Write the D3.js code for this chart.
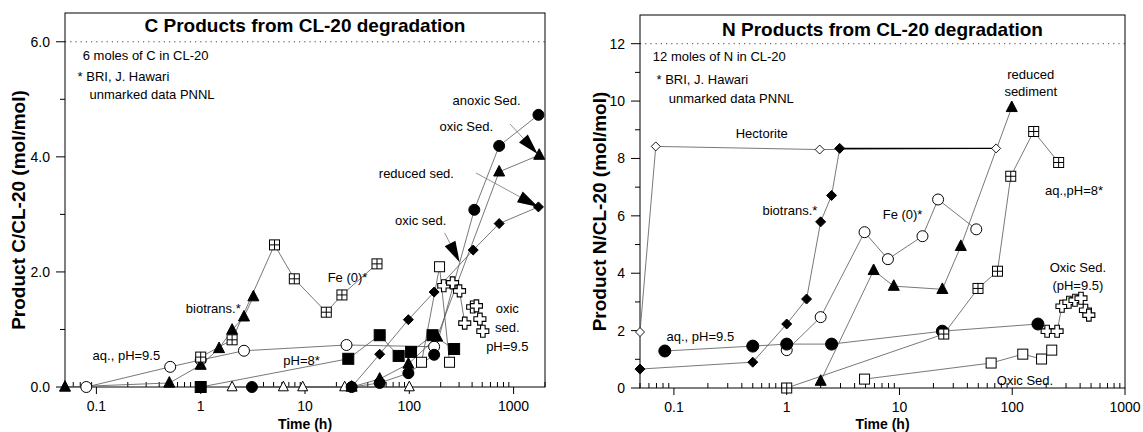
<!DOCTYPE html>
<html><head><meta charset="utf-8">
<script src="https://cdn.jsdelivr.net/npm/d3@7"></script>
<style>body{margin:0;background:#fff} svg{display:block} text{font-family:"Liberation Sans",Arial,sans-serif;fill:#000}</style>
</head><body><svg id="c" width="1143" height="432"></svg>
<script>
// ---------- C products (left panel) ----------
const cTimeBiotrans = [0.05, 0.5, 1, 1.5, 2, 2.6, 3.2];
const cBiotrans     = [0, 0.07, 0.38, 0.67, 0.99, 1.22, 1.57];
const cTimeFe = [1, 2, 5.1, 7.9, 16, 22.6, 49];
const cFe     = [0.52, 0.82, 2.47, 1.88, 1.30, 1.60, 2.14];
const cTimeAq95 = [0.08, 0.51, 1, 2.6, 25, 173];
const cAq95     = [0, 0.35, 0.47, 0.63, 0.73, 0.70];
const cTimePh8 = [1, 26, 52, 79, 104, 167, 269];
const cPh8     = [0, 0.49, 0.90, 0.54, 0.61, 0.90, 0.66];
const cTimeOpenTri = [2, 6.2, 9.5, 24, 100];
const cOpenTri     = [0, 0, 0, 0, 0];
const cTimeAnoxic = [3.1, 28, 52, 98, 173, 420, 727, 1730];
const cAnoxic     = [0, 0, 0.07, 0.24, 0.56, 3.08, 4.19, 4.73];
const cTimeOxicTri = [28, 52, 98, 185, 727, 1760];
const cOxicTri     = [0, 0.14, 0.40, 0.87, 3.74, 4.03];
const cTimeDiamond = [28, 52, 98, 173, 410, 727, 1730];
const cDiamond     = [0, 0.57, 1.17, 1.65, 2.38, 2.84, 3.13];
const cTimeOpenSq = [131, 195, 243];
const cOpenSq     = [0.43, 2.09, 0.43];
const cTimeCrossA = [214, 260, 303, 340];
const cCrossA     = [1.76, 1.81, 1.67, 1.11];
const cTimeCrossB = [405, 440, 475, 507];
const cCrossB     = [1.39, 1.41, 1.18, 0.97];

// ---------- N products (right panel) ----------
const nTimeHect = [0.05, 0.069, 1.96, 72];
const nHect     = [1.95, 8.42, 8.31, 8.35];
const nTimeBio = [0.05, 0.5, 1, 1.5, 2, 2.5, 2.95];
const nBio     = [0.66, 0.90, 2.23, 3.10, 5.79, 6.71, 8.35];
const nTimeBioPlateau = [2.95, 72];
const nBioPlateau     = [8.35, 8.35];
const nTimeFe = [1, 2, 4.9, 7.9, 16, 22, 48];
const nFe     = [1.32, 2.47, 5.43, 4.49, 5.29, 6.57, 5.53];
const nTimeAq95 = [0.083, 0.5, 1, 2.5, 24, 169];
const nAq95     = [1.29, 1.46, 1.53, 1.53, 1.98, 2.23];
const nTimeRed = [2, 5.9, 8.9, 24, 35, 99];
const nRed     = [0.24, 4.10, 3.55, 3.44, 4.94, 9.78];
const nTimeAq8 = [1, 24.7, 49.7, 74, 97, 155, 258];
const nAq8     = [0, 1.88, 3.47, 4.07, 7.38, 8.94, 7.86];
const nTimeOxic = [4.9, 65, 124, 182, 224];
const nOxic     = [0.31, 0.87, 1.18, 1.01, 1.32];
const nTimeCross = [204, 250, 276, 318, 360, 407, 446, 478];
const nCross     = [1.98, 1.98, 2.85, 2.99, 3.06, 3.13, 2.71, 2.54];

// ---------- axes ----------
const cYTicks = [0, 2, 4, 6];
const cYMinor = [1, 3, 5];
const nYTicks = [0, 2, 4, 6, 8, 10, 12];
const nYMinor = [1, 3, 5, 7, 9, 11];
const xTickLabels = [0.1, 1, 10, 100, 1000];

// ---------- text annotations [text, time, value, anchor] ----------
const cNotes = [
  ["6 moles of C in CL-20", 0.074, 5.69, "start"],
  ["* BRI, J. Hawari", 0.066, 5.32, "start"],
  ["unmarked data PNNL", 0.086, 5.01, "start"],
  ["anoxic Sed.", 260, 4.90, "start"],
  ["oxic Sed.", 195, 4.45, "start"],
  ["reduced sed.", 51, 3.63, "start"],
  ["oxic sed.", 73, 2.82, "start"],
  ["Fe (0)*", 16.5, 1.83, "start"],
  ["biotrans.*", 0.72, 1.29, "start"],
  ["aq., pH=9.5", 0.092, 0.47, "start"],
  ["pH=8*", 6.2, 0.38, "start"],
  ["oxic", 870, 1.29, "middle"],
  ["sed.", 870, 0.96, "middle"],
  ["pH=9.5", 870, 0.63, "middle"]
];
const nNotes = [
  ["12 moles of N in CL-20", 0.065, 11.41, "start"],
  ["* BRI, J. Hawari", 0.070, 10.61, "start"],
  ["unmarked data PNNL", 0.090, 9.95, "start"],
  ["Hectorite", 0.353, 8.70, "start"],
  ["biotrans.*", 0.61, 6.02, "start"],
  ["Fe (0)*", 7.1, 5.88, "start"],
  ["reduced", 146, 10.78, "middle"],
  ["sediment", 146, 10.19, "middle"],
  ["aq.,pH=8*", 195, 6.71, "start"],
  ["Oxic Sed.", 382, 4.03, "middle"],
  ["(pH=9.5)", 382, 3.41, "middle"],
  ["aq., pH=9.5", 0.086, 1.63, "start"],
  ["Oxic Sed.", 73, 0.12, "start"]
];
// arrows: [fromTime, fromValue, toTime, toValue]
const cArrows = [
  [925, 4.57, 1700, 4.05],
  [436, 3.72, 1725, 3.13],
  [218, 2.68, 304, 2.17]
];

const panels = [
  {x0:65, x1:545, y0:13, y1:387, xDom:[0.05,2000], yDom:[0,6.5], yTicks:cYTicks, yMinor:cYMinor,
   fmt:d3.format(".1f"), refLine:6, title:"C Products from CL-20 degradation", titleY:32,
   ylabel:"Product C/CL-20 (mol/mol)", ylabX:25, notes:cNotes, arrows:cArrows,
   series:[
     {t:cTimeOpenTri, v:cOpenTri, m:"otri", s:10},
     {t:cTimeAq95, v:cAq95, m:"ocirc", s:11},
     {t:cTimePh8, v:cPh8, m:"sq", s:11},
     {t:cTimeBiotrans, v:cBiotrans, m:"tri", s:11},
     {t:cTimeFe, v:cFe, m:"xsq", s:10},
     {t:cTimeOpenSq, v:cOpenSq, m:"osq", s:10},
     {t:cTimeDiamond, v:cDiamond, m:"dia", s:10},
     {t:cTimeOxicTri, v:cOxicTri, m:"tri", s:11},
     {t:cTimeAnoxic, v:cAnoxic, m:"circ", s:11},
     {t:cTimeCrossA, v:cCrossA, m:"cross", s:12},
     {t:cTimeCrossB, v:cCrossB, m:"cross", s:12, noLine:true}
   ]},
  {x0:640, x1:1125, y0:15, y1:388, xDom:[0.05,1000], yDom:[0,13], yTicks:nYTicks, yMinor:nYMinor,
   fmt:d3.format("d"), refLine:12, title:"N Products from CL-20 degradation", titleY:36,
   ylabel:"Product N/CL-20 (mol/mol)", ylabX:606, notes:nNotes, arrows:[],
   series:[
     {t:nTimeHect, v:nHect, m:"odia", s:9},
     {t:nTimeBioPlateau, v:nBioPlateau, m:null, dark:true},
     {t:nTimeBio, v:nBio, m:"dia", s:10},
     {t:nTimeFe, v:nFe, m:"ocirc", s:11},
     {t:nTimeAq95, v:nAq95, m:"circ", s:12},
     {t:nTimeRed, v:nRed, m:"tri", s:11},
     {t:nTimeAq8, v:nAq8, m:"xsq", s:10},
     {t:nTimeOxic, v:nOxic, m:"osq", s:10},
     {t:nTimeCross, v:nCross, m:"cross", s:12}
   ]}
];

const svg = d3.select("#c");

function marker(g, type, x, y, s) {
  const h = s/2;
  if (type === "circ" || type === "ocirc") {
    g.append("circle").attr("cx",x).attr("cy",y).attr("r",h)
      .attr("fill", type==="circ" ? "#000" : "#fff").attr("stroke","#000").attr("stroke-width",1);
  } else if (type === "sq" || type === "osq" || type === "xsq") {
    g.append("rect").attr("x",x-h).attr("y",y-h).attr("width",s).attr("height",s)
      .attr("fill", type==="sq" ? "#000" : "#fff").attr("stroke","#000").attr("stroke-width",1);
    if (type === "xsq") g.append("path").attr("d",`M${x-h},${y}H${x+h}M${x},${y-h}V${y+h}`)
      .attr("stroke","#000").attr("stroke-width",1);
  } else if (type === "tri" || type === "otri") {
    g.append("path").attr("d",`M${x},${y-s*0.58}L${x+h},${y+s*0.38}L${x-h},${y+s*0.38}Z`)
      .attr("fill", type==="tri" ? "#000" : "#fff").attr("stroke","#000").attr("stroke-width",1);
  } else if (type === "dia" || type === "odia") {
    g.append("path").attr("d",`M${x},${y-h}L${x+h},${y}L${x},${y+h}L${x-h},${y}Z`)
      .attr("fill", type==="dia" ? "#000" : "#fff").attr("stroke","#000").attr("stroke-width",type==="dia"?1:0.9);
  } else if (type === "cross") {
    const w = s*0.19;
    g.append("path").attr("d",
      `M${x-w},${y-h}H${x+w}V${y-w}H${x+h}V${y+w}H${x+w}V${y+h}H${x-w}V${y+w}H${x-h}V${y-w}H${x-w}Z`)
      .attr("fill","#fff").attr("stroke","#000").attr("stroke-width",1.1);
  }
}

panels.forEach(p => {
  const x = d3.scaleLog().domain(p.xDom).range([p.x0, p.x1]);
  const y = d3.scaleLinear().domain(p.yDom).range([p.y1, p.y0]);
  const g = svg.append("g");

  // reference dotted line
  g.append("line").attr("x1",p.x0).attr("x2",p.x1).attr("y1",y(p.refLine)).attr("y2",y(p.refLine))
    .attr("stroke","#444").attr("stroke-width",1).attr("stroke-dasharray","1.2,4");

  // frame
  g.append("rect").attr("x",p.x0).attr("y",p.y0).attr("width",p.x1-p.x0).attr("height",p.y1-p.y0)
    .attr("fill","none").attr("stroke","#000").attr("stroke-width",1);

  // x ticks (1..9 x 10^k within domain)
  const kMin = Math.floor(Math.log10(p.xDom[0])), kMax = Math.ceil(Math.log10(p.xDom[1]));
  for (let k = kMin; k <= kMax; k++) {
    for (let m = 1; m <= 9; m++) {
      const t = m * Math.pow(10, k);
      if (t < p.xDom[0]*0.999 || t > p.xDom[1]*1.001) continue;
      const major = m === 1;
      g.append("line").attr("x1",x(t)).attr("x2",x(t))
        .attr("y1", major ? p.y1 : p.y1 - 5).attr("y2", major ? p.y1 + 7 : p.y1)
        .attr("stroke","#000").attr("stroke-width",1);
    }
  }
  xTickLabels.filter(t => t <= p.xDom[1]).forEach(t => {
    g.append("text").attr("x",x(t)).attr("y",p.y1+24).attr("text-anchor","middle")
      .attr("font-size",14).text(String(t));
  });
  g.append("text").attr("x",(p.x0+p.x1)/2).attr("y",429).attr("text-anchor","middle")
    .attr("font-size",14).attr("font-weight","bold").text("Time (h)");

  // y ticks
  p.yTicks.forEach(v => {
    g.append("line").attr("x1",p.x0-9).attr("x2",p.x0).attr("y1",y(v)).attr("y2",y(v)).attr("stroke","#000");
    g.append("text").attr("x",p.x0-15).attr("y",y(v)).attr("dy","0.35em").attr("text-anchor","end")
      .attr("font-size",14).text(p.fmt(v));
  });
  p.yMinor.forEach(v => {
    g.append("line").attr("x1",p.x0-5).attr("x2",p.x0).attr("y1",y(v)).attr("y2",y(v)).attr("stroke","#000");
  });
  g.append("text").attr("transform",`translate(${p.ylabX},${(p.y0+p.y1)/2+10}) rotate(-90)`)
    .attr("text-anchor","middle").attr("font-size",19).attr("font-weight","bold").text(p.ylabel);

  // title
  g.append("text").attr("x",(p.x0+p.x1)/2).attr("y",p.titleY).attr("text-anchor","middle")
    .attr("font-size",19).attr("font-weight","bold").text(p.title);

  // lines
  const line = d3.line().x(d => x(d[0])).y(d => y(d[1]));
  p.series.forEach(s => {
    if (s.noLine) return;
    const pts = s.t.map((t,i) => [t, s.v[i]]);
    g.append("path").attr("d", line(pts)).attr("fill","none")
      .attr("stroke", s.dark ? "#000" : "#555").attr("stroke-width", s.dark ? 1.3 : 0.8);
  });

  // arrows
  p.arrows.forEach(a => {
    const x1 = x(a[0]), y1 = y(a[1]), x2 = x(a[2]), y2 = y(a[3]);
    const ang = Math.atan2(y2-y1, x2-x1), L = 21, W = 6;
    const bx = x2 - L*Math.cos(ang), by = y2 - L*Math.sin(ang);
    g.append("line").attr("x1",x1).attr("y1",y1).attr("x2",bx).attr("y2",by)
      .attr("stroke","#777").attr("stroke-width",0.8);
    const px = -Math.sin(ang)*W, py = Math.cos(ang)*W;
    g.append("path").attr("d",`M${x2},${y2}L${bx+px},${by+py}L${bx-px},${by-py}Z`).attr("fill","#000");
  });

  // markers
  p.series.forEach(s => {
    if (!s.m) return;
    s.t.forEach((t,i) => marker(g, s.m, x(t), y(s.v[i]), s.s));
  });

  // notes
  p.notes.forEach(n => {
    g.append("text").attr("x",x(n[1])).attr("y",y(n[2])).attr("text-anchor",n[3])
      .attr("font-size",13).text(n[0]);
  });
});
</script></body></html>
